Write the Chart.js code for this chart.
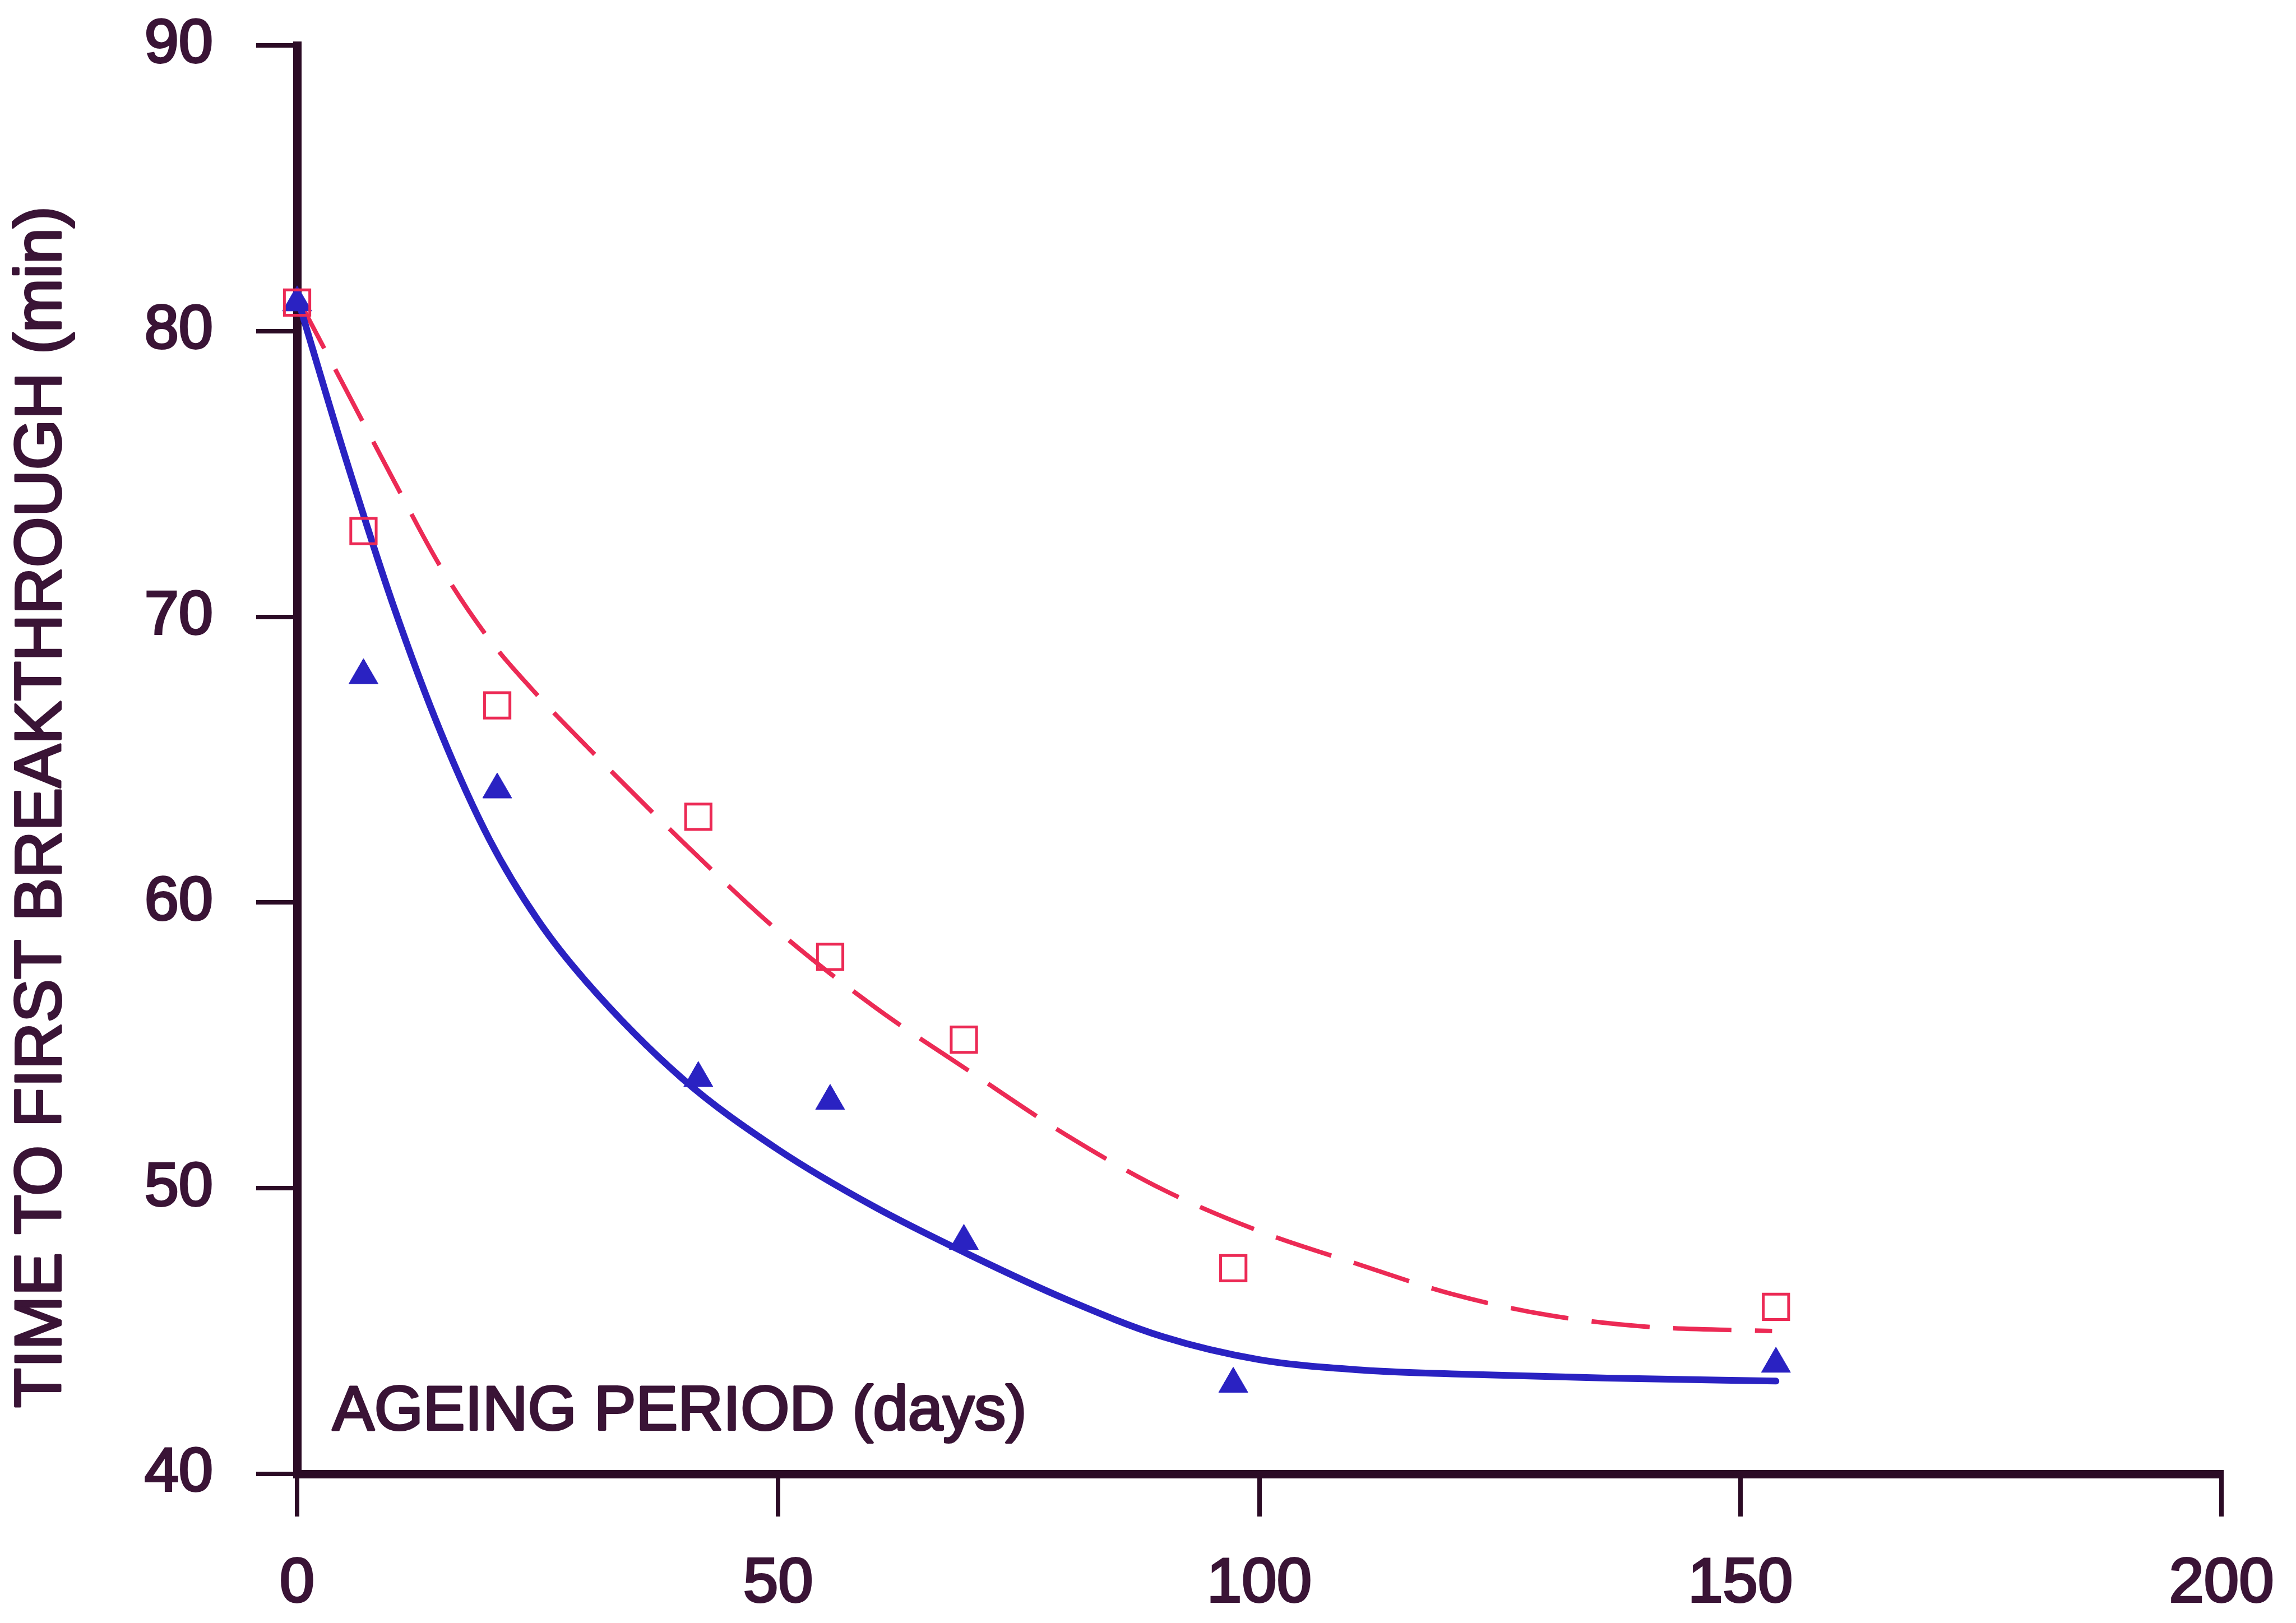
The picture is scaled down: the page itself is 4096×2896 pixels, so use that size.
<!DOCTYPE html>
<html>
<head>
<meta charset="utf-8">
<script src="https://cdn.jsdelivr.net/npm/chart.js@4.4.1/dist/chart.umd.min.js"></script>
<style>
  html, body { margin: 0; padding: 0; background: #ffffff; }
  canvas { display: block; }
</style>
</head>
<body>
<canvas id="myChart" width="4096" height="2896"></canvas>
<script>
// measured points (days of ageing, minutes to first breakthrough)
const ageingDays = [0, 6.9, 20.8, 41.7, 55.4, 69.3, 97.3, 153.7];
const squareTimes = [81, 73, 66.9, 63, 58.1, 55.2, 47.2, 45.85];
const triangleTimes = [81, 67.95, 63.95, 53.85, 53.05, 48.15, 43.15, 43.85];

// fitted curves
const blueFitDays = [0, 5, 10, 15, 20, 25, 30, 40, 50, 60, 70, 80, 90, 100, 110, 120, 137, 153.7];
const blueFitTimes = [81.2, 75.6, 70.4, 65.9, 62.2, 59.4, 57.25, 53.85, 51.35, 49.35, 47.65, 46.1, 44.8, 44.0, 43.65, 43.5, 43.35, 43.25];
const redFitDays = [0, 5, 10, 15, 20, 25, 30, 40, 50, 60, 70, 80, 90, 100, 110, 120, 130, 140, 153.3];
const redFitTimes = [81.2, 78.0, 74.8, 71.7, 69.2, 67.25, 65.5, 62.15, 59.0, 56.35, 54.07, 51.85, 49.95, 48.5, 47.37, 46.3, 45.56, 45.16, 45.0];

const xTicks = [0, 50, 100, 150, 200];
const yTicks = [40, 50, 60, 70, 80, 90];
const xTitle = 'AGEING PERIOD (days)';
const yTitle = 'TIME TO FIRST BREAKTHROUGH (min)';

const AXIS = '#2b0b25';
const TEXT = '#3a1436';
const BLUE = '#2a22c2';
const RED = '#ec2a55';
const FONT = '"Liberation Sans", Arial, sans-serif';

function toXY(xs, ys) {
    return xs.map((x, i) => ({ x: x, y: ys[i] }));
}

function heavyText(ctx, text, x, y) {
    ctx.strokeText(text, x, y);
    ctx.fillText(text, x, y);
}

// axis titles: the x title sits inside the plot, the y title is off-centre
const axisTitles = {
    id: 'axisTitles',
    afterDraw(chart) {
        const { ctx, chartArea } = chart;
        ctx.save();
        ctx.fillStyle = TEXT;
        ctx.strokeStyle = TEXT;
        ctx.lineWidth = 4;
        ctx.lineJoin = 'round';
        ctx.font = '112px ' + FONT;
        ctx.textAlign = 'left';
        ctx.textBaseline = 'alphabetic';
        heavyText(ctx, xTitle, chartArea.left + 63, chartArea.bottom - 79);

        ctx.translate(76, chartArea.top + 1359);
        ctx.rotate(-Math.PI / 2);
        ctx.font = '116px ' + FONT;
        ctx.textAlign = 'center';
        ctx.textBaseline = 'middle';
        heavyText(ctx, yTitle, 0, 0);
        ctx.restore();
    }
};

function initChart() {
    const chartElement = document.getElementById('myChart');

    const data = {
        datasets: [
            {
                label: 'squares',
                data: toXY(ageingDays, squareTimes),
                showLine: false,
                pointStyle: 'rect',
                pointRadius: 32,
                pointBorderWidth: 5,
                pointBorderColor: RED,
                pointBackgroundColor: 'rgba(0,0,0,0)',
                clip: false
            },
            {
                label: 'triangles',
                data: toXY(ageingDays, triangleTimes),
                showLine: false,
                pointStyle: 'triangle',
                pointRadius: 30,
                pointBorderWidth: 1,
                pointBorderColor: BLUE,
                pointBackgroundColor: BLUE,
                clip: false
            },
            {
                label: 'fit 1',
                data: toXY(blueFitDays, blueFitTimes),
                showLine: true,
                borderColor: BLUE,
                borderWidth: 12,
                borderCapStyle: 'round',
                cubicInterpolationMode: 'monotone',
                pointRadius: 0,
                clip: false
            },
            {
                label: 'fit 2',
                data: toXY(redFitDays, redFitTimes),
                showLine: true,
                borderColor: RED,
                borderWidth: 8,
                borderDash: [104, 42],
                cubicInterpolationMode: 'monotone',
                pointRadius: 0,
                clip: false
            }
        ]
    };

    const config = {
        type: 'scatter',
        data: data,
        plugins: [axisTitles],
        options: {
            responsive: false,
            animation: false,
            devicePixelRatio: 1,
            layout: { padding: { top: 81, right: 133, left: 0, bottom: 0 } },
            plugins: {
                legend: { display: false },
                tooltip: { enabled: false }
            },
            scales: {
                x: {
                    type: 'linear',
                    min: xTicks[0],
                    max: xTicks[xTicks.length - 1],
                    afterBuildTicks: scale => { scale.ticks = xTicks.map(v => ({ value: v })); },
                    afterFit: scale => {
                        scale.height = 266;
                        scale.paddingLeft = 0;
                        scale.paddingRight = 0;
                    },
                    grid: { display: true, drawOnChartArea: false, drawTicks: true, tickLength: 76, color: AXIS, lineWidth: 8 },
                    border: { display: true, color: AXIS, width: 15 },
                    ticks: {
                        color: TEXT, padding: 54, maxRotation: 0,
                        textStrokeColor: TEXT, textStrokeWidth: 4,
                        font: { family: FONT, size: 112 }
                    }
                },
                y: {
                    type: 'linear',
                    min: yTicks[0],
                    max: yTicks[yTicks.length - 1],
                    afterBuildTicks: scale => { scale.ticks = yTicks.map(v => ({ value: v })); },
                    afterFit: scale => {
                        scale.width = 530;
                        scale.paddingTop = 0;
                        scale.paddingBottom = 0;
                    },
                    grid: { display: true, drawOnChartArea: false, drawTicks: true, tickLength: 73, color: AXIS, lineWidth: 8 },
                    border: { display: true, color: AXIS, width: 15 },
                    ticks: {
                        color: TEXT, padding: 77,
                        textStrokeColor: TEXT, textStrokeWidth: 4,
                        font: { family: FONT, size: 110 }
                    }
                }
            }
        }
    };

    new Chart(chartElement, config);
}

initChart();
</script>
</body>
</html>
